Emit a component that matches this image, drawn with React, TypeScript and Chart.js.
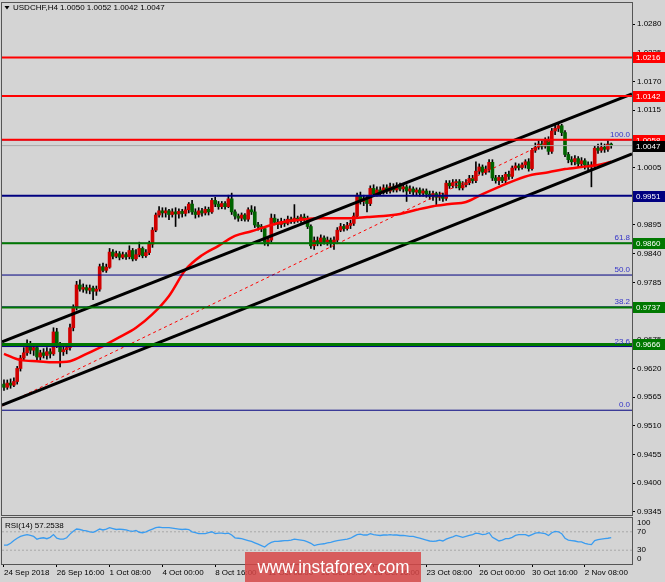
import React, { useEffect, useRef } from "react";
import { Chart, registerables } from "chart.js";

Chart.register(...registerables);

const FONT = "'Liberation Sans', Arial, sans-serif";
const BG = "#d4d4d4";
const FRAME = "#555555";
const RED = "#ff0000";
const NAVY = "#000080";
const GREEN = "#007800";
const FIB_TEXT = "#3434c8";

const TITLE = "USDCHF,H4 1.0050 1.0052 1.0042 1.0047";
const RSI_TITLE = "RSI(14) 57.2538";

// ---- price data (H4 candles, index 0 = 24 Sep 2018 00:00) ----
const opens = [
  0.9590, 0.9584, 0.9592, 0.9588, 0.9595, 0.9620, 0.9640, 0.9650, 0.9662, 0.9655,
  0.9660, 0.9642, 0.9650, 0.9645, 0.9652, 0.9648, 0.9690, 0.9668, 0.9652, 0.9656,
  0.9660, 0.9698, 0.9737, 0.9780, 0.9772, 0.9775, 0.9770, 0.9774, 0.9768, 0.9772,
  0.9815, 0.9808, 0.9814, 0.9843, 0.9835, 0.9840, 0.9833, 0.9838, 0.9834, 0.9846,
  0.9830, 0.9838, 0.9850, 0.9836, 0.9842, 0.9858, 0.9885, 0.9914, 0.9922, 0.9918,
  0.9922, 0.9915, 0.9920, 0.9916, 0.9921, 0.9917, 0.9924, 0.9935, 0.9920, 0.9915,
  0.9922, 0.9918, 0.9925, 0.9920, 0.9942, 0.9935, 0.9930, 0.9936, 0.9930, 0.9945,
  0.9920, 0.9912, 0.9908, 0.9914, 0.9906, 0.9924, 0.9920, 0.9895, 0.9892, 0.9888,
  0.9862, 0.9866, 0.9908, 0.9900, 0.9896, 0.9902, 0.9898, 0.9906, 0.9902, 0.9908,
  0.9904, 0.9910, 0.9906, 0.9892, 0.9855, 0.9865, 0.9860, 0.9870, 0.9862, 0.9866,
  0.9860, 0.9866, 0.9885, 0.9892, 0.9888, 0.9894, 0.9898, 0.9912, 0.9952, 0.9940,
  0.9945, 0.9936, 0.9965, 0.9955, 0.9962, 0.9958, 0.9966, 0.9960, 0.9968, 0.9962,
  0.9970, 0.9964, 0.9968, 0.9960, 0.9964, 0.9958, 0.9962, 0.9956, 0.9960, 0.9954,
  0.9950, 0.9955, 0.9948, 0.9952, 0.9946, 0.9975, 0.9970, 0.9976, 0.9978, 0.9966,
  0.9972, 0.9976, 0.9984, 0.9980, 0.9998, 1.0006, 0.9996, 1.0002, 1.0015, 0.9985,
  0.9980, 0.9986, 0.9980, 0.9992, 0.9988, 1.0004, 1.0008, 1.0005, 1.0010, 1.0016,
  1.0003, 1.0038, 1.0044, 1.0050, 1.0046, 1.0058, 1.0036, 1.0075, 1.0080, 1.0085,
  1.0072, 1.0030, 1.0020, 1.0016, 1.0022, 1.0012, 1.0018, 1.0010, 1.0006, 1.0010,
  1.0042, 1.0038, 1.0044, 1.0040, 1.0050,
];
const highs = [
  0.9598, 0.9598, 0.9600, 0.9602, 0.9624, 0.9645, 0.9660, 0.9675, 0.9672, 0.9668,
  0.9664, 0.9655, 0.9658, 0.9660, 0.9658, 0.9698, 0.9697, 0.9670, 0.9662, 0.9666,
  0.9705, 0.9742, 0.9787, 0.9790, 0.9782, 0.9780, 0.9780, 0.9778, 0.9778, 0.9820,
  0.9822, 0.9820, 0.9850, 0.9848, 0.9845, 0.9844, 0.9843, 0.9842, 0.9855, 0.9850,
  0.9848, 0.9862, 0.9853, 0.9848, 0.9864, 0.9890, 0.9918, 0.9930, 0.9928, 0.9928,
  0.9925, 0.9926, 0.9928, 0.9926, 0.9925, 0.9930, 0.9938, 0.9942, 0.9926, 0.9928,
  0.9927, 0.9930, 0.9929, 0.9946, 0.9948, 0.9940, 0.9940, 0.9940, 0.9952, 0.9956,
  0.9924, 0.9916, 0.9918, 0.9917, 0.9928, 0.9932, 0.9930, 0.9900, 0.9896, 0.9892,
  0.9872, 0.9916, 0.9915, 0.9906, 0.9908, 0.9906, 0.9912, 0.9910, 0.9934, 0.9912,
  0.9915, 0.9916, 0.9912, 0.9895, 0.9872, 0.9872, 0.9876, 0.9874, 0.9872, 0.9870,
  0.9872, 0.9890, 0.9898, 0.9896, 0.9900, 0.9904, 0.9918, 0.9956, 0.9958, 0.9952,
  0.9950, 0.9970, 0.9972, 0.9968, 0.9968, 0.9972, 0.9972, 0.9975, 0.9974, 0.9976,
  0.9975, 0.9974, 0.9972, 0.9970, 0.9968, 0.9966, 0.9966, 0.9964, 0.9964, 0.9960,
  0.9960, 0.9958, 0.9958, 0.9956, 0.9980, 0.9980, 0.9982, 0.9982, 0.9982, 0.9978,
  0.9982, 0.9990, 0.9990, 1.0016, 1.0012, 1.0010, 1.0008, 1.0020, 1.0020, 0.9990,
  0.9990, 0.9990, 0.9996, 0.9998, 1.0008, 1.0014, 1.0012, 1.0014, 1.0020, 1.0022,
  1.0042, 1.0052, 1.0056, 1.0056, 1.0062, 1.0064, 1.0080, 1.0088, 1.0090, 1.0088,
  1.0076, 1.0034, 1.0026, 1.0028, 1.0026, 1.0024, 1.0022, 1.0016, 1.0016, 1.0046,
  1.0050, 1.0052, 1.0050, 1.0056, 1.0052,
];
const lows = [
  0.9578, 0.9580, 0.9582, 0.9585, 0.9590, 0.9615, 0.9635, 0.9645, 0.9648, 0.9645,
  0.9636, 0.9636, 0.9640, 0.9638, 0.9640, 0.9645, 0.9660, 0.9623, 0.9645, 0.9648,
  0.9655, 0.9692, 0.9732, 0.9768, 0.9766, 0.9764, 0.9763, 0.9752, 0.9760, 0.9768,
  0.9805, 0.9804, 0.9812, 0.9830, 0.9832, 0.9828, 0.9830, 0.9829, 0.9830, 0.9826,
  0.9827, 0.9834, 0.9832, 0.9833, 0.9838, 0.9852, 0.9882, 0.9910, 0.9910, 0.9910,
  0.9905, 0.9910, 0.9892, 0.9908, 0.9910, 0.9912, 0.9918, 0.9915, 0.9908, 0.9910,
  0.9912, 0.9914, 0.9914, 0.9917, 0.9930, 0.9925, 0.9926, 0.9925, 0.9928, 0.9915,
  0.9906, 0.9902, 0.9903, 0.9902, 0.9902, 0.9915, 0.9890, 0.9885, 0.9882, 0.9856,
  0.9855, 0.9862, 0.9895, 0.9888, 0.9890, 0.9892, 0.9895, 0.9898, 0.9898, 0.9900,
  0.9900, 0.9902, 0.9888, 0.9850, 0.9848, 0.9855, 0.9855, 0.9858, 0.9856, 0.9852,
  0.9848, 0.9862, 0.9882, 0.9883, 0.9885, 0.9888, 0.9894, 0.9908, 0.9935, 0.9932,
  0.9920, 0.9932, 0.9950, 0.9950, 0.9952, 0.9954, 0.9955, 0.9956, 0.9958, 0.9958,
  0.9960, 0.9958, 0.9940, 0.9955, 0.9953, 0.9952, 0.9950, 0.9950, 0.9948, 0.9944,
  0.9942, 0.9934, 0.9942, 0.9940, 0.9942, 0.9965, 0.9966, 0.9966, 0.9962, 0.9962,
  0.9968, 0.9972, 0.9975, 0.9976, 0.9992, 0.9990, 0.9992, 0.9996, 0.9980, 0.9975,
  0.9972, 0.9976, 0.9975, 0.9982, 0.9984, 1.0000, 1.0000, 1.0002, 1.0004, 0.9998,
  1.0000, 1.0034, 1.0040, 1.0040, 1.0042, 1.0030, 1.0032, 1.0068, 1.0074, 1.0066,
  1.0026, 1.0014, 1.0010, 1.0010, 1.0006, 1.0006, 1.0002, 1.0000, 0.9968, 1.0005,
  1.0032, 1.0034, 1.0034, 1.0036, 1.0042,
];
const closes = [
  0.9584, 0.9592, 0.9588, 0.9595, 0.9620, 0.9640, 0.9650, 0.9662, 0.9655, 0.9660,
  0.9642, 0.9650, 0.9645, 0.9652, 0.9648, 0.9690, 0.9668, 0.9652, 0.9656, 0.9660,
  0.9698, 0.9737, 0.9780, 0.9772, 0.9775, 0.9770, 0.9774, 0.9768, 0.9772, 0.9815,
  0.9808, 0.9814, 0.9843, 0.9835, 0.9840, 0.9833, 0.9838, 0.9834, 0.9846, 0.9830,
  0.9838, 0.9850, 0.9836, 0.9842, 0.9858, 0.9885, 0.9914, 0.9922, 0.9918, 0.9922,
  0.9915, 0.9920, 0.9916, 0.9921, 0.9917, 0.9924, 0.9935, 0.9920, 0.9915, 0.9922,
  0.9918, 0.9925, 0.9920, 0.9942, 0.9935, 0.9930, 0.9936, 0.9930, 0.9945, 0.9920,
  0.9912, 0.9908, 0.9914, 0.9906, 0.9924, 0.9920, 0.9895, 0.9892, 0.9888, 0.9862,
  0.9866, 0.9908, 0.9900, 0.9896, 0.9902, 0.9898, 0.9906, 0.9902, 0.9908, 0.9904,
  0.9910, 0.9906, 0.9892, 0.9855, 0.9865, 0.9860, 0.9870, 0.9862, 0.9866, 0.9860,
  0.9866, 0.9885, 0.9892, 0.9888, 0.9894, 0.9898, 0.9912, 0.9952, 0.9940, 0.9945,
  0.9936, 0.9965, 0.9955, 0.9962, 0.9958, 0.9966, 0.9960, 0.9968, 0.9962, 0.9970,
  0.9964, 0.9968, 0.9960, 0.9964, 0.9958, 0.9962, 0.9956, 0.9960, 0.9954, 0.9950,
  0.9955, 0.9948, 0.9952, 0.9946, 0.9975, 0.9970, 0.9976, 0.9978, 0.9966, 0.9972,
  0.9976, 0.9984, 0.9980, 0.9998, 1.0006, 0.9996, 1.0002, 1.0015, 0.9985, 0.9980,
  0.9986, 0.9980, 0.9992, 0.9988, 1.0004, 1.0008, 1.0005, 1.0010, 1.0016, 1.0003,
  1.0038, 1.0044, 1.0050, 1.0046, 1.0058, 1.0036, 1.0075, 1.0080, 1.0085, 1.0072,
  1.0030, 1.0020, 1.0016, 1.0022, 1.0012, 1.0018, 1.0010, 1.0006, 1.0010, 1.0042,
  1.0038, 1.0044, 1.0040, 1.0050, 1.0047,
];

const rsiValues = [
  41, 41, 45, 51, 56, 60, 62, 64, 62, 60,
  54, 56, 57, 55, 58, 64, 56, 54, 54, 57,
  65, 71, 76, 75, 73, 72, 70, 69, 72, 76,
  74, 76, 79, 77, 75, 76, 75, 74, 72, 71,
  73, 69, 68, 70, 73, 76, 79, 80, 79, 79,
  79, 78, 77, 76, 75, 76, 75, 70, 68, 66,
  66, 66, 68, 70, 66, 67, 67, 66, 67, 63,
  57, 56, 55, 53, 51, 49, 46, 43, 40, 37,
  43, 47, 49, 49, 50, 51, 51, 52, 54, 53,
  52, 51, 48, 45, 40, 42, 43, 44, 46, 47,
  49, 51, 52, 53, 54, 56, 60, 64, 65, 63,
  63, 66, 64, 63, 62, 63, 63, 64, 63, 63,
  62, 62, 61, 60, 60, 58, 56, 54, 52, 50,
  49, 50, 52, 50, 54, 57, 59, 62, 60, 58,
  60, 62, 64, 67, 66, 64, 65, 68, 58, 54,
  50, 52, 55, 55, 58, 62, 64, 64, 64, 61,
  64, 67, 68, 67, 66, 62, 68, 71, 70, 66,
  56, 52, 51, 50, 48, 48, 45, 43, 42, 51,
  53, 54, 55, 56, 57.2538,
];

// moving average (red line), sampled at these bar indexes
const maIndex = [0, 5, 10, 15, 20, 25, 30, 35, 40, 45, 50, 55, 60, 65, 70, 75, 80, 85, 90, 95, 100, 105, 110, 115, 120, 125, 130, 135, 140, 145, 150, 155, 160, 165, 170, 175, 180, 184];
const maValues = [0.9648, 0.9636, 0.9634, 0.9632, 0.9634, 0.9648, 0.9663, 0.9680, 0.9698, 0.9724, 0.9759, 0.9809, 0.9837, 0.9855, 0.9874, 0.9883, 0.9893, 0.9901, 0.9905, 0.9908, 0.9908, 0.9908, 0.9910, 0.9912, 0.9916, 0.9924, 0.9931, 0.9935, 0.9939, 0.9954, 0.9968, 0.9981, 0.9991, 0.9996, 1.0002, 1.0006, 1.0010, 1.0016];

const priceTicks = [0.9345, 0.94, 0.9455, 0.951, 0.9565, 0.962, 0.9675, 0.973, 0.9785, 0.984, 0.9895, 0.995, 1.0005, 1.006, 1.0115, 1.017, 1.0225, 1.028];

const timeTickIndex = [0, 16, 32, 48, 64, 80, 96, 112, 128, 144, 160, 176];
const timeTickLabels = ["24 Sep 2018", "26 Sep 16:00", "1 Oct 08:00", "4 Oct 00:00", "8 Oct 16:00", "11 Oct 08:00", "16 Oct 00:00", "18 Oct 16:00", "23 Oct 08:00", "26 Oct 00:00", "30 Oct 16:00", "2 Nov 08:00"];

// horizontal levels
const redLevels = [1.0216, 1.0142, 1.0058];
const navyLevels = [0.9951];
const greenLevels = [0.986, 0.9737];
const greenThickLevels = [0.9666];
const bidPrice = 1.0047;

// fibonacci retracement
const fibLabels = ["0.0", "23.6", "38.2", "50.0", "61.8", "100.0"];
const fibPrices = [0.954, 0.9662, 0.9738, 0.9799, 0.986, 1.0058];
const fibTrendIndex = [-0.6, 166];
const fibTrendPrices = [0.9548, 1.0058];

// channel lines
const channelIndex = [-0.6, 190.3];
const channelUpper = [0.9671, 1.0146];
const channelLower = [0.955, 1.0031];

const rsiLevels = [30, 70];
const rsiAxisValues = [0, 30, 70, 100];

const X_MIN = -0.6;
const X_MAX = 190.3;
const Y_MIN = 0.933925;
const Y_MAX = 1.032024;

function hline(v: number, color: string, width: number, order: number, dash: number[] = []) {
  return {
    type: "line" as const,
    data: [{ x: X_MIN, y: v }, { x: X_MAX, y: v }],
    borderColor: color,
    borderWidth: width,
    borderDash: dash,
    pointRadius: 0,
    fill: false,
    order,
  };
}

function pairLine(xs: number[], ys: number[], color: string, width: number, order: number, dash: number[] = []) {
  return {
    type: "line" as const,
    data: xs.map((x, k) => ({ x, y: ys[k] })),
    borderColor: color,
    borderWidth: width,
    borderDash: dash,
    pointRadius: 0,
    fill: false,
    order,
  };
}

export default function App() {
  const mainRef = useRef<HTMLCanvasElement>(null);
  const rsiRef = useRef<HTMLCanvasElement>(null);

  useEffect(() => {
    const mainDecor = {
      id: "mainDecor",
      afterDraw(chart: any) {
        const { ctx, chartArea: a } = chart;
        const y = chart.scales.y;
        ctx.save();
        ctx.strokeStyle = FRAME;
        ctx.lineWidth = 1;
        ctx.strokeRect(a.left - 0.5, a.top - 0.5, a.right - a.left + 1, a.bottom - a.top + 1);
        // title
        ctx.fillStyle = "#000";
        ctx.beginPath();
        ctx.moveTo(4.5, 6);
        ctx.lineTo(9.5, 6);
        ctx.lineTo(7, 9.5);
        ctx.closePath();
        ctx.fill();
        ctx.font = `8px ${FONT}`;
        ctx.textAlign = "left";
        ctx.textBaseline = "middle";
        ctx.fillText(TITLE, 13, 8);
        // fib labels
        ctx.fillStyle = FIB_TEXT;
        ctx.textAlign = "right";
        ctx.textBaseline = "bottom";
        fibPrices.forEach((p, k) => {
          ctx.fillText(fibLabels[k], a.right - 2, y.getPixelForValue(p) - 1);
        });
        // value boxes
        const boxes: [number, string][] = [
          ...redLevels.map((v) => [v, RED] as [number, string]),
          ...navyLevels.map((v) => [v, NAVY] as [number, string]),
          ...greenLevels.map((v) => [v, GREEN] as [number, string]),
          ...greenThickLevels.map((v) => [v, GREEN] as [number, string]),
          [bidPrice, "#000000"],
        ];
        ctx.textAlign = "left";
        ctx.textBaseline = "middle";
        boxes.forEach(([v, c]) => {
          const py = Math.round(y.getPixelForValue(v));
          ctx.fillStyle = c;
          ctx.fillRect(a.right + 1, py - 5, 32, 11);
          ctx.fillStyle = "#ffffff";
          ctx.fillText(v.toFixed(4), a.right + 4, py + 0.5);
        });
        ctx.restore();
      },
    };

    const datasets: any[] = [
      hline(bidPrice, "#a8a8a8", 1, 3),
      ...redLevels.map((v) => hline(v, RED, 2, 1)),
      ...navyLevels.map((v) => hline(v, NAVY, 2, 1)),
      ...greenLevels.map((v) => hline(v, GREEN, 2, 1)),
      ...greenThickLevels.map((v) => hline(v, GREEN, 3, 1)),
      ...fibPrices.map((v) => hline(v, NAVY, 1, 2)),
      pairLine(fibTrendIndex, fibTrendPrices, RED, 1, 2, [3, 3]),
      pairLine(channelIndex, channelUpper, "#000000", 3, 1),
      pairLine(channelIndex, channelLower, "#000000", 3, 1),
      {
        type: "line",
        data: maIndex.map((x, k) => ({ x, y: maValues[k] })),
        borderColor: RED,
        borderWidth: 2.5,
        pointRadius: 0,
        fill: false,
        cubicInterpolationMode: "monotone",
        order: 4,
      },
      {
        type: "bar",
        data: opens.map((o, i) => ({ x: i, y: [Math.min(o, closes[i]), Math.max(o, closes[i])] })),
        backgroundColor: opens.map((o, i) => (closes[i] >= o ? "#d00000" : "#006400")),
        borderWidth: 0,
        barThickness: 3,
        minBarLength: 1,
        grouped: false,
        order: 8,
      },
      {
        type: "bar",
        data: highs.map((h, i) => ({ x: i, y: [lows[i], h] })),
        backgroundColor: "#000000",
        borderWidth: 0,
        barThickness: 1,
        grouped: false,
        order: 9,
      },
    ];

    const main = new Chart(mainRef.current as HTMLCanvasElement, {
      type: "bar",
      data: { datasets },
      options: {
        animation: false,
        responsive: false,
        maintainAspectRatio: false,
        events: [],
        layout: { padding: { left: 2, right: 0, top: 3, bottom: 1 } },
        plugins: { legend: { display: false }, tooltip: { enabled: false } },
        scales: {
          x: { type: "linear", min: X_MIN, max: X_MAX, display: false, offset: false, grid: { offset: false } },
          y: {
            type: "linear",
            position: "right",
            min: Y_MIN,
            max: Y_MAX,
            afterBuildTicks: (s: any) => {
              s.ticks = priceTicks.map((v) => ({ value: v }));
            },
            afterFit: (s: any) => {
              s.width = 33;
              s.paddingTop = 0;
              s.paddingBottom = 0;
            },
            ticks: {
              autoSkip: false,
              padding: 2,
              color: "#000",
              font: { family: FONT, size: 8 },
              callback: (v: any) => Number(v).toFixed(4),
            },
            grid: { display: true, drawOnChartArea: false, drawTicks: true, tickLength: 3, color: "#000" },
            border: { display: false },
          },
        },
      } as any,
      plugins: [mainDecor],
    });

    const rsiDecor = {
      id: "rsiDecor",
      afterDraw(chart: any) {
        const { ctx, chartArea: a } = chart;
        const y = chart.scales.y;
        ctx.save();
        ctx.strokeStyle = FRAME;
        ctx.lineWidth = 1;
        ctx.strokeRect(a.left - 0.5, a.top - 0.5, a.right - a.left + 1, a.bottom - a.top + 1);
        ctx.fillStyle = "#000";
        ctx.font = `8px ${FONT}`;
        ctx.textAlign = "left";
        ctx.textBaseline = "middle";
        ctx.fillText(RSI_TITLE, 5, a.top + 8);
        rsiAxisValues.forEach((v) => {
          const py = Math.min(Math.max(y.getPixelForValue(v), a.top + 5), a.bottom - 5);
          ctx.fillText(String(v), a.right + 5, py);
        });
        ctx.restore();
      },
    };

    const rsi = new Chart(rsiRef.current as HTMLCanvasElement, {
      type: "line",
      data: {
        datasets: [
          {
            data: rsiValues.map((v, i) => ({ x: i, y: v })),
            borderColor: "#3a9cf0",
            borderWidth: 1.3,
            pointRadius: 0,
            fill: false,
            order: 1,
          },
          ...rsiLevels.map((v) => hline(v, "#a8a8a8", 1, 2, [2, 2])),
        ] as any,
      },
      options: {
        animation: false,
        responsive: false,
        maintainAspectRatio: false,
        events: [],
        layout: { padding: { left: 2, right: 33, top: 2, bottom: 0 } },
        plugins: { legend: { display: false }, tooltip: { enabled: false } },
        scales: {
          x: {
            type: "linear",
            min: X_MIN,
            max: X_MAX,
            offset: false,
            afterBuildTicks: (s: any) => {
              s.ticks = timeTickIndex.map((v) => ({ value: v }));
            },
            afterFit: (s: any) => {
              s.height = 18;
              s.paddingLeft = 0;
              s.paddingRight = 0;
            },
            ticks: {
              autoSkip: false,
              maxRotation: 0,
              minRotation: 0,
              align: "start",
              padding: 1,
              color: "#000",
              font: { family: FONT, size: 8 },
              callback: (_v: any, i: number) => timeTickLabels[i],
            },
            grid: { display: true, drawOnChartArea: false, drawTicks: true, tickLength: 3, color: "#000", offset: false },
            border: { display: false },
          },
          y: { type: "linear", min: 0, max: 100, display: false },
        },
      } as any,
      plugins: [rsiDecor],
    });

    return () => {
      main.destroy();
      rsi.destroy();
    };
  }, []);

  return (
    <div style={{ position: "fixed", left: 0, top: 0, width: 665, height: 582, background: BG, overflow: "hidden" }}>
      <canvas ref={mainRef} width={665} height={516} style={{ position: "absolute", left: 0, top: 0, width: 665, height: 516 }} />
      <canvas ref={rsiRef} width={665} height={66} style={{ position: "absolute", left: 0, top: 516, width: 665, height: 66 }} />
      <div
        style={{
          position: "absolute",
          left: 245,
          top: 552,
          width: 176,
          height: 30,
          background: "rgba(215, 70, 70, 0.85)",
          color: "#ffffff",
          fontFamily: "'Liberation Sans', Arial, sans-serif",
          fontSize: 19,
          lineHeight: "30px",
          textAlign: "center",
          whiteSpace: "nowrap",
        }}
      >
        <span style={{ display: "inline-block", transform: "scaleX(0.9)" }}>www.instaforex.com</span>
      </div>
    </div>
  );
}
